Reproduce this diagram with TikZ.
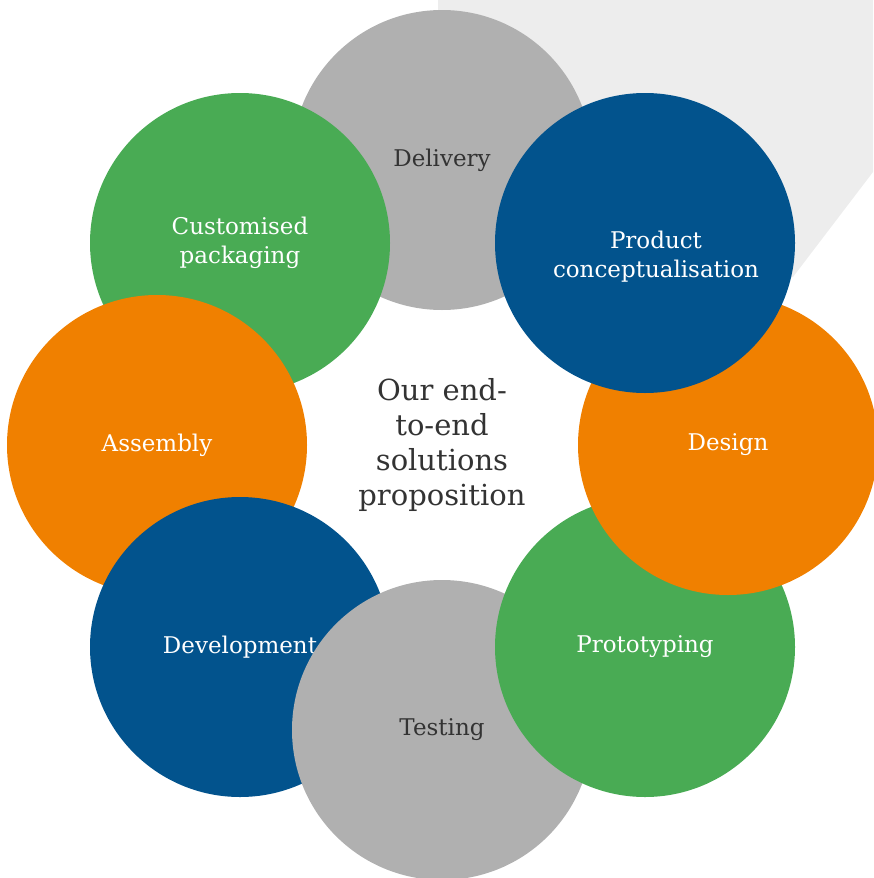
\documentclass[tikz,border=0pt]{standalone}
\usepackage{fontspec}
\setmainfont{DejaVu Serif}
\definecolor{cgray}{HTML}{B0B0B0}
\definecolor{cblue}{HTML}{02538D}
\definecolor{corange}{HTML}{F08000}
\definecolor{cgreen}{HTML}{49AB54}
\definecolor{cwedge}{HTML}{EDEDED}
\definecolor{cdark}{HTML}{333333}
\tikzset{
  disc/.style={circle, minimum size=300pt, inner sep=0pt, align=center,
    font=\fontsize{23}{29}\selectfont},
  onlight/.style={disc, text=cdark},
  ondark/.style={disc, text=white},
  lbl/.style={align=center, inner sep=0pt, font=\fontsize{23}{29}\selectfont},
  centre/.style={align=center, inner sep=0pt, text=cdark, font=\fontsize{29}{35}\selectfont}
}
\begin{document}
\begin{tikzpicture}[x=1pt,y=-1pt]
\useasboundingbox (0,0) rectangle (873,878);
\fill[cwedge] (438,0) -- (873,0) -- (873,172) -- (793,277) -- (700,300) -- (442,160) -- cycle;
\node[onlight, fill=cgray] (delivery) at (442,160) {Delivery};
\node[ondark, fill=cgreen] (packaging) at (240,243) {Customised\\packaging};
\node[ondark, fill=corange] (assembly) at (157,445) {Assembly};
\node[ondark, fill=cblue] (development) at (240,647) {Development};
\node[onlight, fill=cgray] (testing) at (442,730) {Testing};
\node[ondark, fill=cgreen] (prototyping) at (645,647) {Prototyping};
\node[ondark, fill=corange] (design) at (728,445) {Design};
\node[ondark, fill=cblue] (product) at (645,243) {};
\node[lbl, text=white] (productlbl) at (656,257) {Product\\conceptualisation};
\node[centre] (centre) at (442,445) {Our end-\\to-end\\solutions\\proposition};
\end{tikzpicture}
\end{document}
